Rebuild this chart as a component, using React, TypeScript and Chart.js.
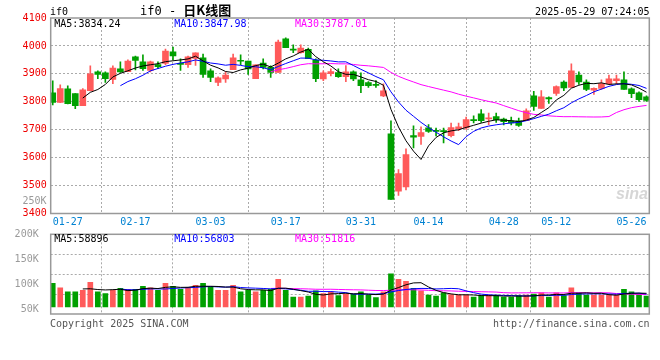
import React, { useEffect, useRef } from "react";
import { Chart, registerables } from "chart.js";

Chart.register(...registerables);

const MONO = "'DejaVu Sans Mono', monospace";
const UP = "#ff5a5a";
const DOWN = "#00a000";

// ---- daily candles (index 0 = 01-23 ... index 79 = 05-28) ----
const opens = [3832,3798,3846,3829,3786,3840,3907,3904,3880,3918,
  3908,3961,3943,3912,3933,3937,3979,3936,3933,3955,
  3957,3911,3869,3882,3915,3947,3946,3883,3939,3923,
  3905,4025,3987,3976,3988,3949,3882,3901,3905,3890,
  3907,3879,3869,3861,3821,3685,3480,3495,3679,3676,
  3707,3696,3695,3679,3704,3706,3736,3757,3739,3747,
  3738,3732,3732,3732,3821,3776,3815,3830,3871,3851,
  3896,3871,3842,3848,3864,3876,3879,3846,3832,3818];
const highs = [3875,3861,3857,3829,3847,3929,3911,3907,3929,3943,
  3950,3964,3968,3946,3943,3989,3996,3954,3964,3975,
  3971,3918,3889,3907,3971,3968,3946,3932,3954,3929,
  4021,4029,4004,4004,3992,3954,3911,3918,3918,3930,
  3911,3904,3872,3876,3864,3732,3557,3632,3714,3710,
  3718,3706,3706,3724,3724,3745,3750,3772,3760,3760,
  3742,3745,3742,3775,3837,3840,3818,3857,3875,3936,
  3907,3879,3850,3879,3896,3896,3907,3850,3836,3821];
const lows = [3789,3797,3792,3775,3786,3839,3883,3869,3865,3905,
  3908,3914,3912,3907,3919,3933,3950,3912,3923,3930,
  3887,3872,3858,3869,3915,3933,3898,3883,3918,3887,
  3905,3994,3976,3974,3954,3872,3876,3893,3887,3872,
  3876,3833,3851,3851,3818,3450,3465,3484,3635,3647,
  3690,3678,3653,3674,3697,3701,3724,3726,3718,3726,
  3717,3717,3712,3732,3769,3776,3794,3823,3840,3851,
  3862,3840,3826,3844,3862,3864,3844,3815,3801,3801];
const closes = [3798,3847,3793,3786,3843,3900,3898,3883,3921,3907,
  3946,3948,3919,3943,3926,3982,3964,3934,3961,3975,
  3898,3887,3886,3896,3957,3945,3918,3932,3923,3905,
  4014,3994,3985,3992,3954,3883,3904,3908,3890,3907,
  3882,3858,3858,3859,3839,3450,3543,3611,3673,3690,
  3694,3694,3693,3708,3710,3736,3732,3732,3741,3736,
  3729,3724,3715,3768,3783,3818,3810,3854,3850,3911,
  3871,3844,3848,3865,3882,3882,3844,3829,3808,3805];

const ma5 = [null,null,null,null,3813.4,3833.8,3844,3862,3889,3901.8,
  3911,3921,3928.2,3932.6,3936.4,3943.6,3946.8,3949.8,3953.4,3963.2,
  3946.4,3931,3921.4,3908.4,3904.8,3914.2,3920.4,3929.6,3935,3924.6,
  3938.4,3953.6,3964.2,3978,3987.8,3961.6,3943.6,3928.2,3907.8,3898.4,
  3898.2,3889,3879,3872.8,3859.2,3772.8,3709.8,3660.4,3623.2,3593.4,
  3642.2,3672.4,3688.8,3695.8,3699.8,3708.2,3715.8,3723.6,3730.2,3735.4,
  3734,3732.4,3729,3734.4,3743.8,3761.6,3778.8,3806.6,3823,3848.6,
  3859.2,3866,3864.8,3867.8,3862,3864.2,3864.2,3860.4,3849,3834.24];
const ma10 = [null,null,null,null,null,null,null,null,null,3857.6,
  3872.4,3882.5,3895.1,3910.8,3919.1,3927.3,3933.9,3939,3943,3949.8,
  3945,3938.9,3935.6,3930.9,3934,3930.3,3925.7,3925.5,3921.7,3914.7,
  3926.3,3937,3946.9,3956.5,3956.2,3950,3948.6,3946.2,3942.9,3943.1,
  3929.9,3916.3,3903.6,3890.3,3878.8,3835.5,3799.4,3769.7,3748,3726.3,
  3707.5,3691.1,3674.6,3659.5,3646.6,3675.2,3694.1,3706.2,3713,3717.6,
  3721.1,3724.1,3726.3,3732.3,3739.6,3747.8,3755.6,3767.8,3778.7,3796.2,
  3810.4,3822.4,3835.7,3845.4,3855.3,3861.7,3865.1,3862.6,3858.4,3847.98];
const ma30 = [null,null,null,null,null,null,null,null,null,null,
  null,null,null,null,null,null,null,null,null,null,
  null,null,null,null,null,null,null,null,null,3907.4,
  3914.6,3919.5,3925.9,3932.7,3936.4,3935.9,3936.1,3936.9,3935.9,3935.9,
  3933.7,3930.7,3928.7,3925.9,3923,3905.3,3891.2,3880.5,3870.9,3861.4,
  3854.6,3848.1,3841.7,3835.4,3827.2,3820.2,3814,3807.4,3801.3,3795.7,
  3786.2,3777.2,3768.2,3760.7,3755,3752.8,3749.7,3747.9,3746.6,3746.7,
  3746.3,3745.9,3745.5,3745.7,3747.2,3761.6,3771.6,3778.9,3783.4,3787.01];

// ---- volume (in thousands, as read against the panel's axis) ----
const volumes = [102,93,85,85,88,104,85,81,88,92,
  90,90,96,93,88,102,96,90,94,98,
  102,96,88,88,98,85,88,85,88,90,
  110,88,74,74,76,87,81,85,77,80,
  80,85,78,73,85,121,110,106,92,87,
  78,76,83,79,78,78,74,77,78,78,
  74,74,77,78,80,83,74,83,77,93,
  83,78,78,78,78,78,90,85,80,76];
const vma5 = [null,null,null,null,90.6,91,89.4,88.6,89.2,90,
  87.2,88.2,91.2,92.2,91.4,93.8,95,93.8,94,96,
  96,96,95.6,94.4,94.4,91,89.4,88.8,88.8,87.2,
  92.2,92.2,90,87.2,84.4,79.8,78.4,80.6,81.2,82,
  80.6,81.4,80,79.2,80.2,88.4,93.4,99,102.8,103.2,
  94.6,87.8,83.2,80.6,78.8,78.8,78.4,77.2,77,77,
  76.2,76.2,76.2,76.2,76.6,78.4,78.4,79.6,79.4,82,
  82,82.8,81.8,82,79,78,80.4,81.8,82.2,81.8];
const vma10 = [null,null,null,null,null,null,null,null,null,90.3,
  89.1,88.8,89.9,90.7,90.7,90.5,91.6,92.5,93.1,93.7,
  94.9,95.5,94.7,94.2,95.2,93.5,92.7,92.2,91.6,90.8,
  91.6,90.8,89.4,88,85.8,86,85.3,85.3,84.2,83.2,
  80.2,79.9,80.3,80.2,81.1,84.5,87.4,89.5,91,91.7,
  91.5,90.6,91.1,91.7,91,86.7,83.1,80.2,78.8,77.9,
  77.5,77.3,76.7,76.6,76.8,77.3,77.3,77.9,77.8,79.3,
  80.2,80.6,80.7,80.7,80.5,80,81.6,81.8,82.1,80.4];
const vma30 = [null,null,null,null,null,null,null,null,null,null,
  null,null,null,null,null,null,null,null,null,null,
  null,null,null,null,null,null,null,null,null,91.6,
  91.9,91.7,91.3,91,90.6,90,89.9,90,89.6,89.2,
  88.9,88.7,88.1,87.5,87.4,88,88.5,89,88.9,88.6,
  87.8,87.1,86.9,86.6,86,85.7,85.3,85,84.7,84.3,
  83.1,82.6,82.7,82.8,83,82.8,82.6,82.5,82.5,83,
  83.1,82.8,82.8,83,82.8,81.3,80.7,80,79.6,79.2];

// ---- axis ticks ----
const dateLabels = ["01-27","02-17","03-03","03-17","03-31","04-14","04-28","05-12","05-26"];
const dateIdx = [2, 11, 21, 31, 41, 50, 60, 67, 77];
const priceTicks = [3400, 3500, 3600, 3700, 3800, 3900, 4000, 4100];
const volTicks = [50, 100, 150, 200];
const volBase = 54.5;

const X_MIN = -0.27;
const X_MAX = 79.37;
const GRID = "#aaaaaa";

function pts(arr: (number | null)[]) {
  const out: { x: number; y: number }[] = [];
  arr.forEach((v, i) => { if (v !== null) out.push({ x: i, y: v }); });
  return out;
}

const boxPlugin = {
  id: "box",
  afterDraw(chart: any) {
    const { ctx, chartArea: a } = chart;
    ctx.save();
    ctx.strokeStyle = "#999";
    ctx.lineWidth = 1.5;
    ctx.strokeRect(a.left, a.top, a.right - a.left, a.bottom - a.top);
    ctx.restore();
  },
};

function lineDs(data: any[], color: string) {
  return {
    type: "line" as const,
    data,
    borderColor: color,
    borderWidth: 1,
    pointRadius: 0,
    tension: 0,
    order: 0,
  };
}

export default function App() {
  const mainRef = useRef<HTMLCanvasElement>(null);
  const volRef = useRef<HTMLCanvasElement>(null);

  useEffect(() => {
    const colors = closes.map((c, i) => (c >= opens[i] ? UP : DOWN));
    const xTickCb = (v: any) => {
      const k = dateIdx.indexOf(v);
      return k >= 0 ? dateLabels[k] : "";
    };
    const xGridColor = (ctx: any) => (ctx.tick && ctx.tick.value === 77 ? "rgba(0,0,0,0)" : GRID);

    const main = new Chart(mainRef.current as HTMLCanvasElement, {
      type: "bar",
      data: {
        datasets: [
          lineDs(pts(ma5), "#000000"),
          lineDs(pts(ma10), "#0000ff"),
          lineDs(pts(ma30), "#ff00ff"),
          {
            type: "bar",
            data: closes.map((_, i) => ({ x: i, y: [lows[i], highs[i]] })),
            backgroundColor: colors,
            barThickness: 1,
            grouped: false,
            order: 2,
          } as any,
          {
            type: "bar",
            data: closes.map((c, i) => ({ x: i, y: [opens[i], c] })),
            backgroundColor: colors,
            barThickness: 6,
            minBarLength: 1,
            grouped: false,
            order: 1,
          } as any,
        ],
      },
      options: {
        animation: false,
        responsive: false,
        events: [],
        layout: { padding: { left: 0, right: 10.7, top: 18, bottom: 0 } },
        plugins: { legend: { display: false }, tooltip: { enabled: false } },
        scales: {
          x: {
            type: "linear",
            min: X_MIN,
            max: X_MAX,
            offset: false,
            afterBuildTicks: (axis: any) => { axis.ticks = dateIdx.map((v) => ({ value: v })); },
            afterFit: (axis: any) => { axis.height = 18.5; },
            ticks: {
              callback: xTickCb,
              color: "#0082d2",
              font: { family: MONO, size: 10 },
              maxRotation: 0,
              autoSkip: false,
              padding: 3,
            },
            grid: { color: xGridColor, drawTicks: false, lineWidth: 1 },
            border: { display: false, dash: [2, 2] },
          },
          y: {
            type: "linear",
            min: 3400,
            max: 4100,
            afterBuildTicks: (axis: any) => { axis.ticks = priceTicks.map((v) => ({ value: v })); },
            afterFit: (axis: any) => { axis.width = 50.7; },
            ticks: {
              callback: (v: any) => String(v),
              color: "#ee0000",
              font: { family: MONO, size: 10 },
              padding: 4,
            },
            grid: {
              color: (ctx: any) => (ctx.tick && (ctx.tick.value === 3400 || ctx.tick.value === 4100) ? "rgba(0,0,0,0)" : GRID),
              drawTicks: false,
            },
            border: { display: false, dash: [2, 2] },
          },
        },
      } as any,
      plugins: [boxPlugin],
    });

    const vol = new Chart(volRef.current as HTMLCanvasElement, {
      type: "bar",
      data: {
        datasets: [
          lineDs(pts(vma5), "#000000"),
          lineDs(pts(vma10), "#0000ff"),
          lineDs(pts(vma30), "#ff00ff"),
          {
            type: "bar",
            data: volumes.map((v, i) => ({ x: i, y: v })),
            backgroundColor: colors,
            barThickness: 5,
            base: volBase,
            grouped: false,
            order: 1,
            yAxisID: "y",
          } as any,
        ],
      },
      options: {
        animation: false,
        responsive: false,
        events: [],
        layout: { padding: { left: 0, right: 10.7, top: 10.3, bottom: 5.7 } },
        plugins: { legend: { display: false }, tooltip: { enabled: false } },
        scales: {
          x: {
            type: "linear",
            min: X_MIN,
            max: X_MAX,
            offset: false,
            afterBuildTicks: (axis: any) => { axis.ticks = dateIdx.map((v) => ({ value: v })); },
            afterFit: (axis: any) => { axis.height = 0; },
            ticks: { display: false },
            grid: { color: xGridColor, drawTicks: false },
            border: { display: false, dash: [2, 2] },
          },
          y: {
            type: "linear",
            position: "left",
            min: 40,
            max: 201,
            afterBuildTicks: (axis: any) => { axis.ticks = volTicks.map((v) => ({ value: v })); },
            afterFit: (axis: any) => { axis.width = 50.7; },
            ticks: {
              callback: (v: any) => v + "K",
              color: "#9a9a9a",
              font: { family: MONO, size: 10 },
              padding: 4,
            },
            grid: { display: false },
            border: { display: false },
          },
          g: {
            type: "linear",
            position: "right",
            min: 0,
            max: 4,
            afterBuildTicks: (axis: any) => { axis.ticks = [1, 2, 3].map((v) => ({ value: v })); },
            afterFit: (axis: any) => { axis.width = 0; },
            ticks: { display: false },
            grid: { color: GRID, drawTicks: false },
            border: { display: false, dash: [2, 2] },
          },
        },
      } as any,
      plugins: [boxPlugin],
    });

    return () => {
      main.destroy();
      vol.destroy();
    };
  }, []);

  const t = (style: React.CSSProperties, text: string, color = "#000") => (
    <div
      style={{
        position: "absolute",
        fontFamily: MONO,
        fontSize: 10,
        lineHeight: "10px",
        whiteSpace: "pre",
        color,
        ...style,
      }}
    >
      {text}
    </div>
  );

  return (
    <div style={{ position: "absolute", left: 0, top: 0, width: 660, height: 360, background: "#fff", overflow: "hidden" }}>
      <canvas ref={mainRef} width={660} height={232} style={{ position: "absolute", left: 0, top: 0 }} />
      <canvas ref={volRef} width={660} height={100} style={{ position: "absolute", left: 0, top: 224 }} />

      {t({ left: 50, top: 6.7 }, "if0")}
      <div style={{ position: "absolute", left: 140, top: 2, height: 16, lineHeight: "16px", whiteSpace: "pre", color: "#000" }}>
        <span style={{ fontFamily: MONO, fontSize: 12 }}>if0 - </span>
        <span style={{ fontFamily: "'Noto Sans CJK SC', sans-serif", fontWeight: 700, fontSize: 13 }}>日K线图</span>
      </div>
      {t({ right: 10.5, top: 6.9 }, "2025-05-29 07:24:05")}

      {t({ left: 54.3, top: 19.2 }, "MA5:3834.24", "#000000")}
      {t({ left: 174.3, top: 19.2 }, "MA10:3847.98", "#0000ff")}
      {t({ left: 295, top: 19.2 }, "MA30:3787.01", "#ff00ff")}

      {t({ left: 22.5, top: 195.9 }, "250K", "#9a9a9a")}

      {t({ left: 54.3, top: 233.5 }, "MA5:58896", "#000000")}
      {t({ left: 174.3, top: 233.5 }, "MA10:56803", "#0000ff")}
      {t({ left: 295, top: 233.5 }, "MA30:51816", "#ff00ff")}

      <div
        style={{
          position: "absolute",
          left: 616,
          top: 186,
          fontFamily: "'Liberation Sans', sans-serif",
          fontStyle: "italic",
          fontWeight: 700,
          fontSize: 16,
          lineHeight: "16px",
          color: "#d6d6d6",
        }}
      >
        sina
      </div>

      {t({ left: 50, top: 318.9 }, "Copyright 2025 SINA.COM", "#555555")}
      {t({ right: 10.5, top: 318.9 }, "http://finance.sina.com.cn", "#555555")}
    </div>
  );
}
